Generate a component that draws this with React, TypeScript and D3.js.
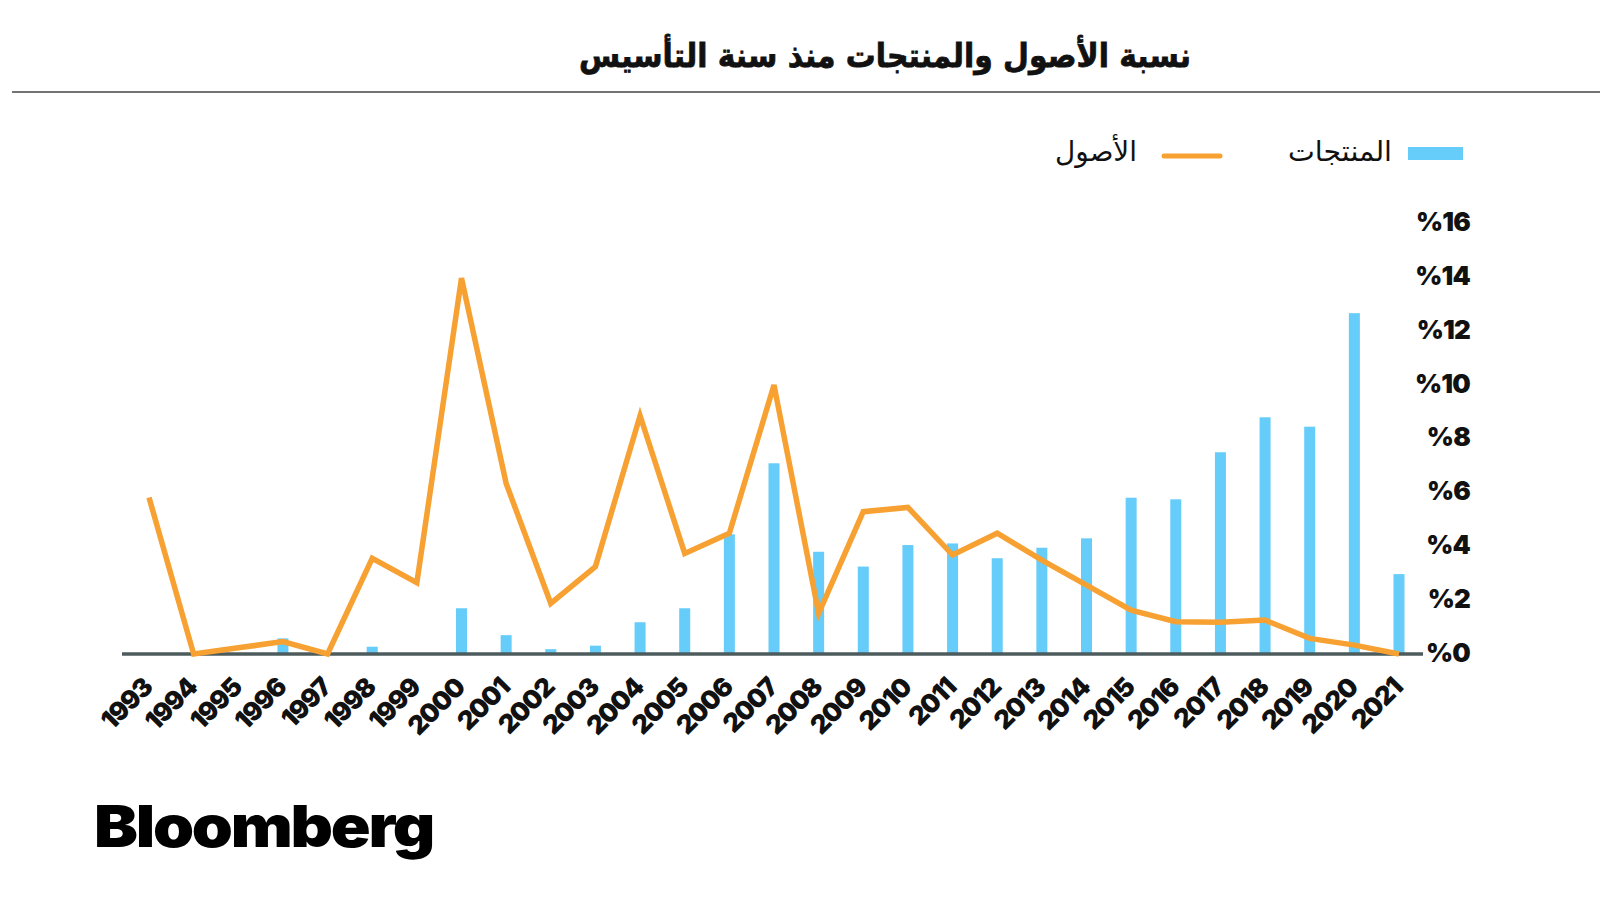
import React from "react";
import * as d3 from "d3";

const years = ["1993","1994","1995","1996","1997","1998","1999","2000","2001","2002","2003","2004","2005","2006","2007","2008","2009","2010","2011","2012","2013","2014","2015","2016","2017","2018","2019","2020","2021"];
// المنتجات (bars), percent
const products = [0,0,0,0.58,0,0.27,0,1.7,0.7,0.18,0.31,1.18,1.7,4.45,7.09,3.8,3.25,4.05,4.11,3.56,3.95,4.3,5.81,5.75,7.5,8.8,8.45,12.67,2.97];
// الأصول (line), percent
const assets = [5.82,0,0.23,0.46,0,3.56,2.65,13.97,6.34,1.88,3.25,8.86,3.74,4.49,10.0,1.51,5.29,5.45,3.68,4.49,3.49,2.56,1.63,1.2,1.18,1.26,0.58,0.33,0];
const yTicks = [0,2,4,6,8,10,12,14,16];

const title = "نسبة الأصول والمنتجات منذ سنة التأسيس";
const legendProducts = "المنتجات";
const legendAssets = "الأصول";

const BLUE = "#66CCFA";
const ORANGE = "#F7A133";

export default function App() {
  const x = d3.scalePoint<string>().domain(years).range([149, 1399]);
  const y = d3.scaleLinear().domain([0, 16]).range([654, 223.6]);
  const barW = 11;
  const line = d3
    .line<number>()
    .x((_, i) => x(years[i]) as number)
    .y((d) => y(d));

  const latin = "Inter, 'Liberation Sans', Arial, sans-serif";
  const arabic = "'DejaVu Sans', 'Noto Sans', sans-serif";

  return (
    <svg
      width={1600}
      height={900}
      style={{ position: "absolute", left: 0, top: 0, background: "#fff" }}
    >
      <rect x={0} y={0} width={1600} height={900} fill="#fff" />
      <text
        x={885}
        y={67}
        textAnchor="middle"
        fontFamily={arabic}
        fontWeight={700}
        fontSize={33}
        fill="#111"
        stroke="#111"
        strokeWidth={0.8}
        textLength={612}
        lengthAdjust="spacingAndGlyphs"
      >
        {title}
      </text>
      <line x1={12} x2={1600} y1={92} y2={92} stroke="#444" strokeWidth={1.5} />

      {/* legend */}
      <rect x={1408} y={147} width={55} height={13} fill={BLUE} />
      <text
        x={1392}
        y={161}
        textAnchor="end"
        fontFamily={arabic}
        fontSize={28}
        fill="#111"
        textLength={104}
        lengthAdjust="spacingAndGlyphs"
      >
        {legendProducts}
      </text>
      <line x1={1164} x2={1220} y1={156} y2={156} stroke={ORANGE} strokeWidth={5} strokeLinecap="round" />
      <text
        x={1137}
        y={161}
        textAnchor="end"
        fontFamily={arabic}
        fontSize={28}
        fill="#111"
        textLength={82}
        lengthAdjust="spacingAndGlyphs"
      >
        {legendAssets}
      </text>

      {/* y tick labels */}
      {yTicks.map((t) => (
        <text
          key={t}
          x={1470}
          y={y(t) - 2}
          textAnchor="end"
          dominantBaseline="central"
          fontFamily={latin}
          fontWeight={900}
          fontSize={26}
          letterSpacing={-0.8}
          fill="#111"
        >
          {`%${t}`}
        </text>
      ))}

      {/* bars */}
      {products.map((v, i) =>
        v > 0 ? (
          <rect
            key={years[i]}
            x={(x(years[i]) as number) - barW / 2}
            y={y(v)}
            width={barW}
            height={y(0) - y(v)}
            fill={BLUE}
          />
        ) : null
      )}

      {/* baseline */}
      <line x1={122} x2={1423} y1={y(0)} y2={y(0)} stroke="#4d5b5d" strokeWidth={3.5} />

      {/* assets line */}
      <path
        d={line(assets) || ""}
        fill="none"
        stroke={ORANGE}
        strokeWidth={5.5}
        strokeLinejoin="miter"
      />

      {/* x labels */}
      {years.map((yr) => (
        <text
          key={yr}
          transform={`translate(${(x(yr) as number) + 5},${689}) rotate(-45)`}
          textAnchor="end"
          fontFamily={latin}
          fontWeight={900}
          fontSize={26}
          letterSpacing={-1.2}
          fill="#111"
        >
          {yr}
        </text>
      ))}

      {/* logo */}
      <text
        x={94}
        y={847}
        fontFamily="Inter, 'Liberation Sans', Arial, sans-serif"
        fontWeight={900}
        fontSize={58}
        letterSpacing={-2}
        fill="#000"
        textLength={339}
        lengthAdjust="spacingAndGlyphs"
      >
        Bloomberg
      </text>
    </svg>
  );
}
